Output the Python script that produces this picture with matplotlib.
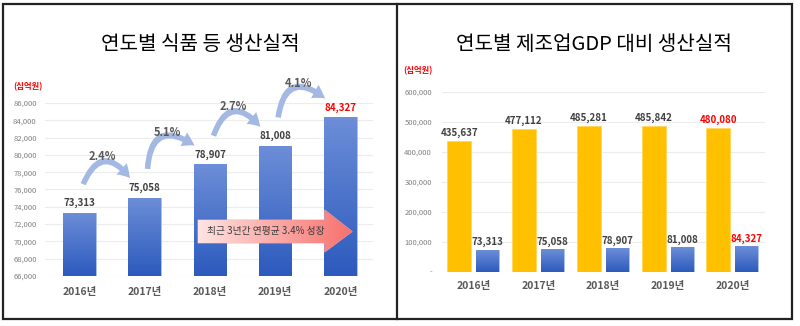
import matplotlib
matplotlib.use('Agg')
import matplotlib.pyplot as plt
import numpy as np
from matplotlib.patches import FancyArrowPatch, Polygon, Rectangle
from matplotlib.lines import Line2D
from matplotlib.colors import LinearSegmentedColormap

plt.rcParams['font.family'] = ['Noto Sans CJK KR', 'DejaVu Sans']

# 데이터
years = ['2016년', '2017년', '2018년', '2019년', '2020년']
food_output = [73313, 75058, 78907, 81008, 84327]
growth_rates = ['2.4%', '5.1%', '2.7%', '4.1%']
gdp_output = [435637, 477112, 485281, 485842, 480080]
left_yticks = list(range(66000, 86001, 2000))
right_yticks = list(range(0, 600001, 100000))
avg_text = '최근 3년간 연평균 3.4% 성장'

BLUE_TOP = '#6d8ed8'
BLUE_BOTTOM = '#2c5abd'
YELLOW = '#ffc000'
LABEL = '#404040'
RED = '#ff0000'


# 막대/도형 안을 그라데이션으로 채우기
def gradient_fill(ax, patch, c_start, c_end, horizontal=False):
    cmap = LinearSegmentedColormap.from_list('grad', [c_start, c_end])
    bb = patch.get_path().get_extents(patch.get_patch_transform())
    if horizontal:
        grad = np.linspace(0, 1, 256).reshape(1, -1)
    else:
        grad = np.linspace(0, 1, 256).reshape(-1, 1)
    im = ax.imshow(grad, cmap=cmap, extent=[bb.x0, bb.x1, bb.y0, bb.y1],
                   origin='lower', aspect='auto', interpolation='bicubic',
                   zorder=patch.get_zorder())
    im.set_clip_path(patch)
    im.set_clip_on(patch.get_clip_on())
    return im


def style_axis(ax):
    for s in ax.spines.values():
        s.set_visible(False)
    ax.grid(axis='y', color='#ececec', lw=0.8)
    ax.set_axisbelow(True)
    ax.tick_params(axis='both', length=0)


fig = plt.figure(figsize=(8, 3.26), dpi=100)

# ---- 왼쪽: 연도별 식품 등 생산실적 ----
ax1 = fig.add_axes([0.05625, 0.1534, 0.41, 0.5307])
style_axis(ax1)
x = np.arange(len(years))
ymin, ymax = left_yticks[0], left_yticks[-1]
bars = ax1.bar(x, np.array(food_output) - ymin, bottom=ymin, width=0.5,
               facecolor='none', edgecolor='#9fb4e4', lw=0.6, zorder=2)
for b in bars:
    gradient_fill(ax1, b, BLUE_BOTTOM, BLUE_TOP)

for i, v in enumerate(food_output):
    ax1.text(i, v + 1150, f'{v:,}', ha='center', va='center', fontsize=7,
             fontweight='bold', color=RED if i == len(food_output) - 1 else LABEL)

# 전년 대비 증가율 화살표
for i, rate in enumerate(growth_rates):
    xs, ys = i + 0.04, food_output[i] + 3000
    xe, ye = i + 0.8, food_output[i + 1] + 2000
    arr = FancyArrowPatch((xs, ys), (xe, ye), connectionstyle='arc3,rad=-0.9',
                          arrowstyle='simple,head_width=0.55,head_length=0.45,tail_width=0.2',
                          mutation_scale=20, color='#a3b8e2', lw=0, zorder=3,
                          clip_on=False)
    ax1.add_patch(arr)
    ax1.text((xs + xe) / 2 - 0.07, (ys + ye) / 2 + 3100, rate, ha='center',
             va='center', fontsize=8, fontweight='bold', color='#595959')

# 연평균 성장 화살표
arrow_pts = [(1.816, 69815), (3.76, 69815), (3.76, 68774), (4.18, 71144),
             (3.76, 73630), (3.76, 72474), (1.816, 72474)]
big = Polygon(arrow_pts, closed=True, facecolor='none', edgecolor='#f6a9a7',
              lw=0.6, zorder=4)
ax1.add_patch(big)
gradient_fill(ax1, big, '#fde4e2', '#f7706d', horizontal=True)
ax1.text(2.86, 71144, avg_text, ha='center', va='center', fontsize=7,
         color='#3a3a3a', zorder=5)

ax1.set_xlim(-0.53, 4.5)
ax1.set_ylim(ymin, ymax)
ax1.set_yticks(left_yticks)
ax1.set_yticklabels([f'{v:,}' for v in left_yticks], fontsize=5.5, color='#808080')
ax1.tick_params(axis='y', pad=6)
ax1.set_xticks(x)
ax1.set_xticklabels(years, fontsize=7.5, fontweight='bold', color='#595959')
ax1.tick_params(axis='x', pad=8)

# ---- 오른쪽: 연도별 제조업GDP 대비 생산실적 ----
ax2 = fig.add_axes([0.5521, 0.1666, 0.4041, 0.5512])
style_axis(ax2)
ax2.bar(x - 0.22, gdp_output, width=0.37, color=YELLOW, edgecolor='#ffd75e',
        lw=0.6, zorder=2)
bars2 = ax2.bar(x + 0.22, food_output, width=0.355, facecolor='none',
                edgecolor='#9fb4e4', lw=0.6, zorder=2)
for b in bars2:
    gradient_fill(ax2, b, BLUE_BOTTOM, BLUE_TOP)

last = len(years) - 1
for i in range(len(years)):
    c = RED if i == last else LABEL
    ax2.text(i - 0.22, gdp_output[i] + 27000, f'{gdp_output[i]:,}', ha='center',
             va='center', fontsize=7, fontweight='bold', color=c)
    ax2.text(i + 0.22, food_output[i] + 25000, f'{food_output[i]:,}', ha='center',
             va='center', fontsize=7, fontweight='bold', color=c)

ax2.set_xlim(-0.49, 4.5)
ax2.set_ylim(right_yticks[0], right_yticks[-1])
ax2.set_yticks(right_yticks)
ax2.set_yticklabels(['-' if v == 0 else f'{v:,}' for v in right_yticks],
                    fontsize=5.5, color='#808080')
ax2.tick_params(axis='y', pad=7)
ax2.set_xticks(x)
ax2.set_xticklabels(years, fontsize=7.5, fontweight='bold', color='#595959')
ax2.tick_params(axis='x', pad=7)

# 제목, 단위
fig.text(200 / 800, 1 - 45 / 326, '연도별 식품 등 생산실적', ha='center',
         va='center', fontsize=14.5, fontweight='medium', color='black')
fig.text(594 / 800, 1 - 45 / 326, '연도별 제조업GDP 대비 생산실적', ha='center',
         va='center', fontsize=14.5, fontweight='medium', color='black')
fig.text(13 / 800, 1 - 87 / 326, '(십억원)', ha='left', va='center',
         fontsize=6, fontweight='bold', color=RED)
fig.text(403 / 800, 1 - 71 / 326, '(십억원)', ha='left', va='center',
         fontsize=6, fontweight='bold', color=RED)

# 테두리
fig.add_artist(Rectangle((3 / 800, 1 - 319 / 326), 789 / 800, 315 / 326,
                         transform=fig.transFigure, fill=False, lw=1.6,
                         ec='#222222'))
fig.add_artist(Line2D([397 / 800, 397 / 800], [1 - 319 / 326, 1 - 4 / 326],
                      transform=fig.transFigure, lw=1.6, color='#222222'))

fig.savefig('out.png', dpi=100)
